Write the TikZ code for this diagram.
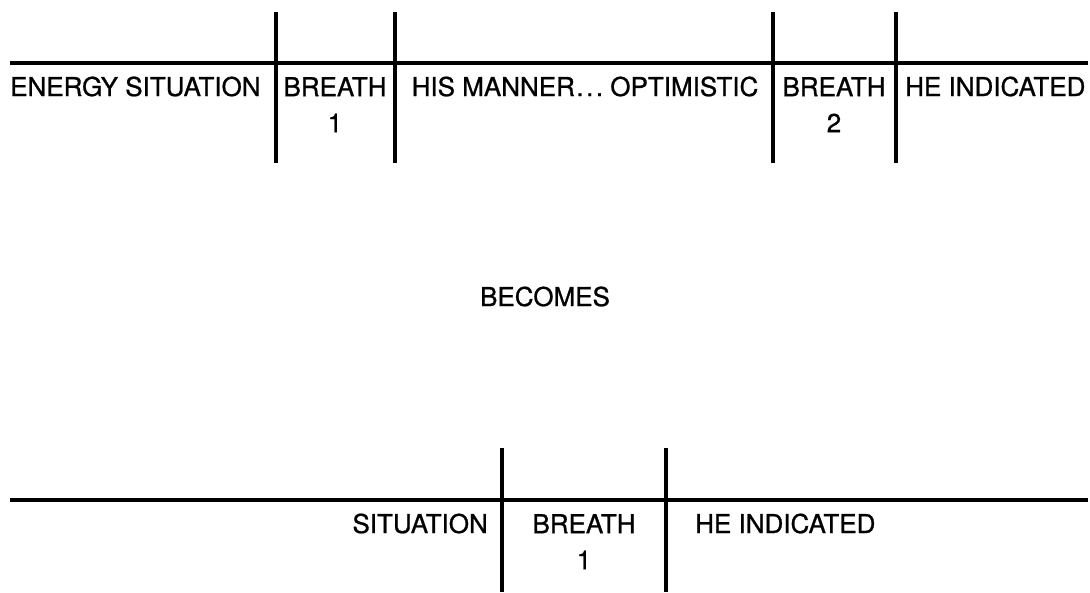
\documentclass[tikz,border=0pt]{standalone}
\usepackage{fontspec}
\newfontfamily\lblfont{TeX Gyre Heros}[FakeBold=0.9]
\begin{document}
\begin{tikzpicture}[x=1pt,y=-1pt,
  rule/.style={line width=4pt},
  lbl/.style={inner sep=0pt,font=\lblfont\fontsize{26}{36}\selectfont},
  two/.style={lbl,align=center,anchor=north}]
\useasboundingbox (0,0) rectangle (1090,592);
% upper sentence
\coordinate (tl) at (10,63);   \coordinate (tr) at (1088,63);
\draw[rule] (tl) -- (tr);
\foreach \n/\x in {a/276,b/395,c/773,d/896}{
  \coordinate (\n t) at (\x,12); \coordinate (\n b) at (\x,163);
  \draw[rule] (\n t) -- (\n b);}
\node[lbl,anchor=base west] (w1) at (10,96) {ENERGY SITUATION};
\node[two] (w2) at (335,77) {BREATH\\1};
\node[lbl,anchor=base] (w3) at (585,96) {HIS MANNER\kern1.5pt.\kern2.5pt.\kern2.5pt.\ OPTIMISTIC};
\node[two] (w4) at (834,77) {BREATH\\2};
\node[lbl,anchor=base west] (w5) at (905,96) {HE INDICATED};
% middle word
\node[lbl,anchor=base] (mid) at (545,306) {BECOMES};
% lower sentence
\coordinate (bl) at (10,500);  \coordinate (br) at (1088,500);
\draw[rule] (bl) -- (br);
\foreach \n/\x in {e/502,f/666}{
  \coordinate (\n t) at (\x,448); \coordinate (\n b) at (\x,592);
  \draw[rule] (\n t) -- (\n b);}
\node[lbl,anchor=base east] (v1) at (488,533) {SITUATION};
\node[two] (v2) at (584,514) {BREATH\\1};
\node[lbl,anchor=base west] (v3) at (695,533) {HE INDICATED};
\end{tikzpicture}
\end{document}
